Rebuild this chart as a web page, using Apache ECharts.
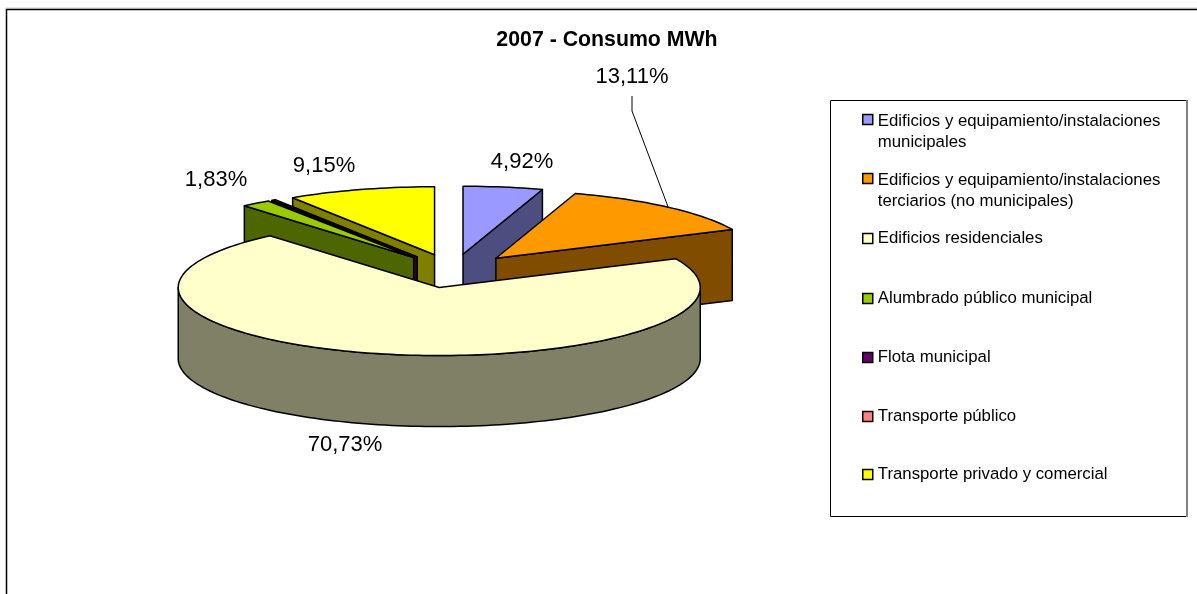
<!DOCTYPE html>
<html>
<head>
<meta charset="utf-8">
<title>2007 - Consumo MWh</title>
<script src="https://cdn.jsdelivr.net/npm/echarts@6/dist/echarts.min.js"></script>
<style>
  html, body { margin: 0; padding: 0; background: #fff; }
  #chart { width: 1197px; height: 594px; }
</style>
</head>
<body>
<div id="chart"></div>
<script>
// datos (%)
const categories = [
  'Edificios y equipamiento/instalaciones\nmunicipales',
  'Edificios y equipamiento/instalaciones\nterciarios (no municipales)',
  'Edificios residenciales',
  'Alumbrado público municipal',
  'Flota municipal',
  'Transporte público',
  'Transporte privado y comercial'
];
const values = [4.92, 13.11, 70.73, 1.83, 0.26, 0, 9.15];
const topColors = ['#9999ff', '#ff9900', '#ffffcc', '#99cc00', '#660066', '#ff8080', '#ffff00'];
const wallColors = ['#4d4d80', '#804d00', '#808066', '#4d6600', '#330033', '#804040', '#808000'];

// posicion de las etiquetas, null = sin etiqueta
const labelSpots = [[522, 162], [632, 77], [345, 445], [216, 180], null, null, [324, 166]];
const legendTops = [111, 170, 228, 288, 347, 406, 464];

// geometria del pastel 3D
const CX = 453, CY = 271, RX = 261, RY = 68, DEPTH = 71, EXPLODE = 65;
const FONT = '"Liberation Sans", Arial, sans-serif';
const rad = d => d * Math.PI / 180;
const total = values.reduce((a, b) => a + b, 0);

// angulos acumulados en sentido horario desde las 12
let acc = 0;
const spans = values.map(v => {
  const s = [acc / total * 360, (acc + v) / total * 360];
  acc += v;
  return s;
});

// de atras hacia delante
const order = values.map((_, i) => i)
  .sort((a, b) => Math.cos(rad((spans[b][0] + spans[b][1]) / 2)) - Math.cos(rad((spans[a][0] + spans[a][1]) / 2)));

function arcPoints(apex, from, to) {
  const steps = Math.max(2, Math.ceil((to - from) / 1.5));
  const pts = [];
  for (let k = 0; k <= steps; k++) {
    const a = rad(from + (to - from) * k / steps);
    pts.push([apex[0] + RX * Math.sin(a), apex[1] - RY * Math.cos(a)]);
  }
  return pts;
}

function makeRenderItem(i) {
  return function (params, api) {
    const from = api.value(0), to = api.value(1);
    if (to - from <= 0) return null;
    const mid = rad((from + to) / 2);
    const apex = [CX + EXPLODE * Math.sin(mid), CY - EXPLODE * Math.cos(mid) * RY / RX];
    const stroke = { stroke: '#000', lineWidth: 1.5, lineJoin: 'round' };
    const poly = (points, fill) => ({ type: 'polygon', shape: { points }, style: Object.assign({ fill }, stroke) });
    const down = p => [p[0], p[1] + DEPTH];
    const arc = arcPoints(apex, from, to);
    const children = [];

    // caras radiales visibles
    if (Math.cos(rad(from - 90)) < -1e-6) {
      children.push(poly([apex, arc[0], down(arc[0]), down(apex)], wallColors[i]));
    }
    if (Math.cos(rad(to + 90)) < -1e-6) {
      const last = arc[arc.length - 1];
      children.push(poly([apex, last, down(last), down(apex)], wallColors[i]));
    }
    // pared exterior, solo la parte delantera
    const wFrom = Math.max(from, 90), wTo = Math.min(to, 270);
    if (wTo > wFrom) {
      const wall = arcPoints(apex, wFrom, wTo);
      children.push(poly(wall.concat(wall.map(down).reverse()), wallColors[i]));
    }
    // cara superior
    children.push(poly([apex].concat(arc), topColors[i]));

    // linea guia del 13,11%
    if (i === 1) {
      const m = [apex[0] + RX * Math.sin(mid), apex[1] - RY * Math.cos(mid)];
      children.push({
        type: 'polyline',
        shape: { points: [[632, 96], [632, 111], m] },
        style: { stroke: '#000', lineWidth: 1, fill: null }
      });
    }
    if (labelSpots[i]) {
      children.push({
        type: 'text',
        z2: 10,
        style: {
          x: labelSpots[i][0], y: labelSpots[i][1],
          text: values[i].toFixed(2).replace('.', ',') + '%',
          align: 'center', verticalAlign: 'middle',
          fontFamily: FONT, fontSize: 22, fill: '#000'
        }
      });
    }
    return { type: 'group', children };
  };
}

const chart = echarts.init(document.getElementById('chart'), null, { renderer: 'canvas' });

chart.setOption({
  animation: false,
  backgroundColor: '#fff',
  title: {
    text: '2007 - Consumo MWh',
    left: 602, top: 25, textAlign: 'center',
    textStyle: { fontFamily: FONT, fontSize: 21.3, fontWeight: 'bold', color: '#000' }
  },
  // cada entrada va aparte porque el espaciado no es uniforme
  legend: categories.map((name, i) => {
    const twoLines = name.indexOf('\n') >= 0;
    return {
      data: [name],
      left: 862,
      top: legendTops[i],
      padding: 0,
      selectedMode: false,
      itemWidth: 10,
      itemHeight: twoLines ? 35 : 10,
      // en dos lineas el cuadro queda en la primera
      icon: twoLines ? 'path://M0 0H10V10H0Z M0 35H0' : 'rect',
      itemStyle: { borderColor: '#000', borderWidth: 1.5 },
      textStyle: { fontFamily: FONT, fontSize: 16.8, color: '#000', lineHeight: 21 }
    };
  }),
  graphic: [
    { type: 'line', silent: true, shape: { x1: 6, y1: 8, x2: 1197, y2: 8 }, style: { stroke: '#cccccc', lineWidth: 1 } },
    { type: 'rect', silent: true, shape: { x: 6.5, y: 9.5, width: 1400, height: 800 }, style: { fill: 'none', stroke: '#000', lineWidth: 1.5 } },
    { type: 'rect', silent: true, shape: { x: 830.5, y: 100.5, width: 356, height: 416 }, style: { fill: 'none', stroke: '#000', lineWidth: 1 } },
    { type: 'line', silent: true, shape: { x1: 1187, y1: 100, x2: 1187, y2: 517 }, style: { stroke: '#808080', lineWidth: 2 } }
  ],
  series: categories.map((name, i) => ({
    type: 'custom',
    name,
    coordinateSystem: 'none',
    silent: true,
    z: 2 + order.indexOf(i),
    itemStyle: { color: topColors[i] },
    data: [[spans[i][0], spans[i][1]]],
    renderItem: makeRenderItem(i)
  }))
});
</script>
</body>
</html>
